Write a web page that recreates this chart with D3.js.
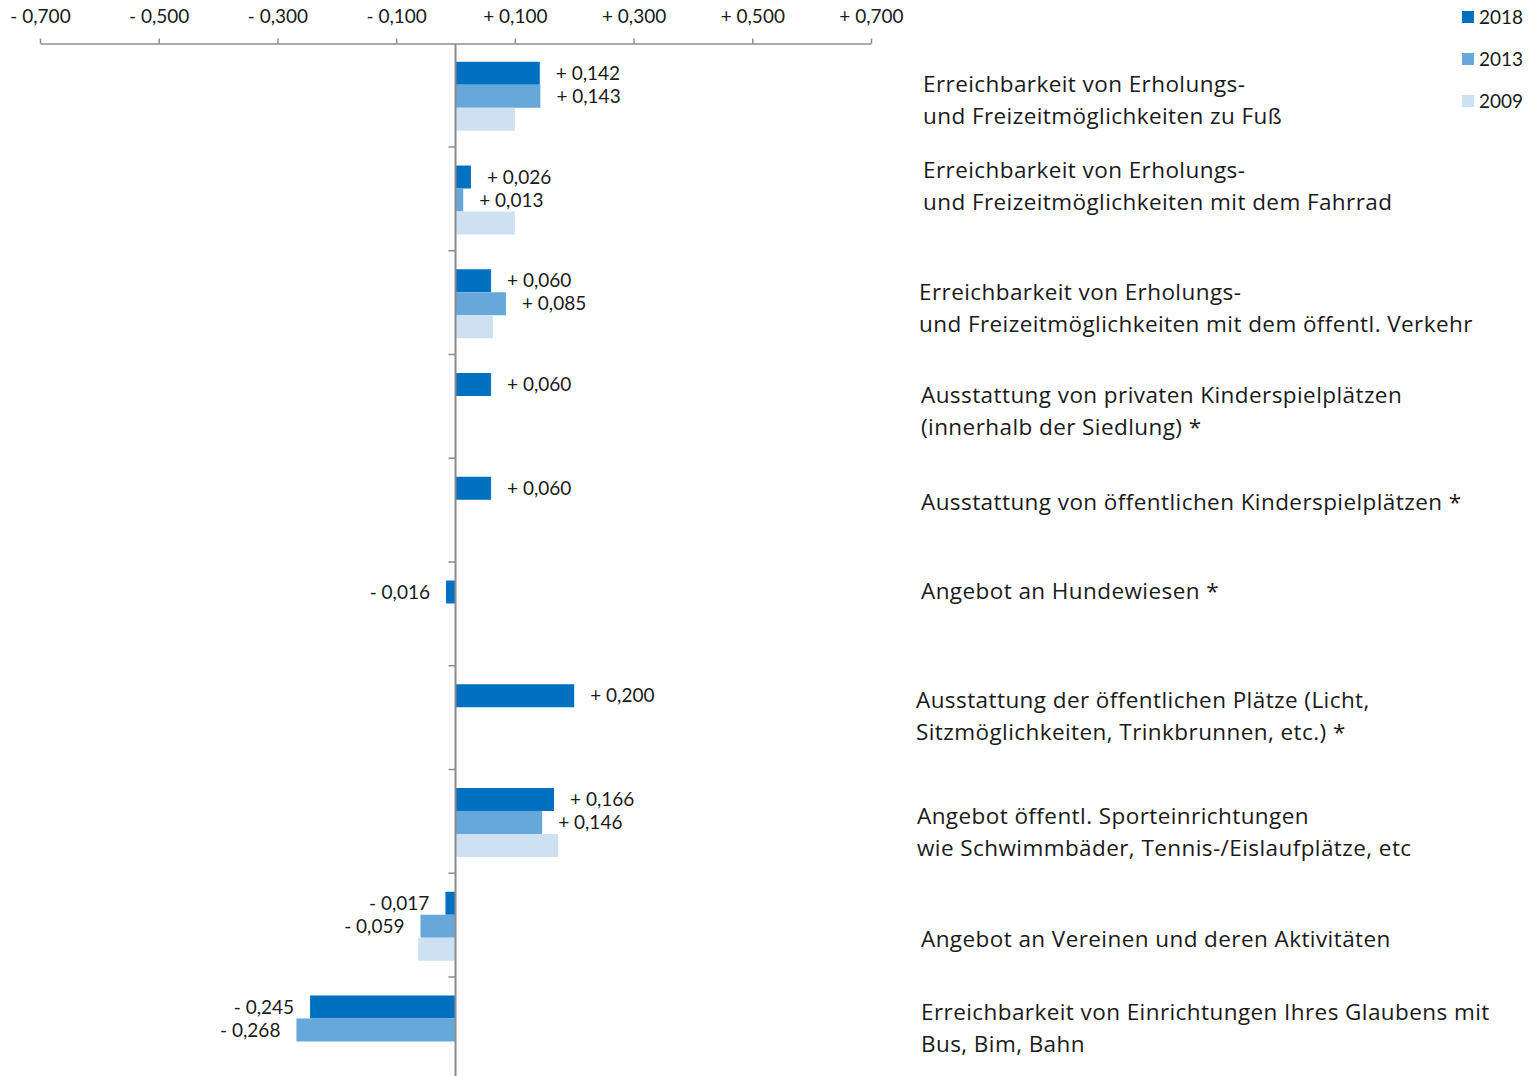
<!DOCTYPE html>
<html><head><meta charset="utf-8">
<script src="https://cdn.jsdelivr.net/npm/d3@7"></script>
<style>body{margin:0;background:#fff;} svg{display:block;} text{font-family:Lato,"Open Sans",sans-serif;fill:#1a1a1a;}</style>
</head><body>
<svg id="c" width="1534" height="1076"></svg>
<script>
const categories = [
  ["Erreichbarkeit von Erholungs-", "und Freizeitmöglichkeiten zu Fuß"],
  ["Erreichbarkeit von Erholungs-", "und Freizeitmöglichkeiten mit dem Fahrrad"],
  ["Erreichbarkeit von Erholungs-", "und Freizeitmöglichkeiten mit dem öffentl. Verkehr"],
  ["Ausstattung von privaten Kinderspielplätzen", "(innerhalb der Siedlung) *"],
  ["Ausstattung von öffentlichen Kinderspielplätzen *"],
  ["Angebot an Hundewiesen *"],
  ["Ausstattung der öffentlichen Plätze (Licht,", "Sitzmöglichkeiten, Trinkbrunnen, etc.) *"],
  ["Angebot öffentl. Sporteinrichtungen", "wie Schwimmbäder, Tennis-/Eislaufplätze, etc"],
  ["Angebot an Vereinen und deren Aktivitäten"],
  ["Erreichbarkeit von Einrichtungen Ihres Glaubens mit", "Bus, Bim, Bahn"]
];
const years = ["2018", "2013", "2009"];
const values2018 = [0.142, 0.026, 0.060, 0.060, 0.060, -0.016, 0.200, 0.166, -0.017, -0.245];
const values2013 = [0.143, 0.013, 0.085, null, null, null, null, 0.146, -0.059, -0.268];
const values2009 = [0.100, 0.100, 0.063, null, null, null, null, 0.173, -0.063, null];
const labeledYears = ["2018", "2013"];
const tickValues = [-0.7, -0.5, -0.3, -0.1, 0.1, 0.3, 0.5, 0.7];

const colors = {"2018": "#0070c0", "2013": "#66a8d9", "2009": "#cde1f2"};
const seriesByYear = {"2018": values2018, "2013": values2013, "2009": values2009};
// layout nudges for the category text boxes (dx = left x, dy = vertical offset from band centre)
const labelLayout = [[923,5],[923,-13],[919,5],[921,5],[921,-8],[921,-23],[916,-2],[917,11],[921,14],[921,-1]];

const fmt = v => (v < 0 ? "- " : "+ ") + d3.format(".3f")(Math.abs(v)).replace(".", ",");

const svg = d3.select("#c");
const axisY = 43.5;
const x = d3.scaleLinear().domain([-0.7, 0.7]).range([40, 871]);
const idx = d3.range(categories.length);
const y = d3.scaleBand().domain(idx).range([43.25, 1080.75]);
const ySub = d3.scaleBand().domain(years).range([18.5, 87.5]);

// bars
years.forEach(yr => {
  const vals = seriesByYear[yr];
  const data = idx.filter(i => vals[i] != null).map(i => ({i, v: vals[i]}));
  svg.append("g").selectAll("rect").data(data).join("rect")
    .attr("x", d => Math.min(x(0), x(d.v)))
    .attr("width", d => Math.abs(x(d.v) - x(0)))
    .attr("y", d => y(d.i) + ySub(yr))
    .attr("height", ySub.bandwidth())
    .attr("fill", colors[yr]);
  if (labeledYears.includes(yr)) {
    svg.append("g").selectAll("text").data(data).join("text")
      .attr("x", d => d.v >= 0 ? x(d.v) + 16 : x(d.v) - 16)
      .attr("y", d => y(d.i) + ySub(yr) + ySub.bandwidth() / 2)
      .attr("dy", "0.35em")
      .attr("text-anchor", d => d.v >= 0 ? "start" : "end")
      .attr("font-size", 19)
      .text(d => fmt(d.v));
  }
});

// top axis
const axTop = svg.append("g").attr("transform", `translate(0,${axisY})`)
  .call(d3.axisTop(x).tickValues(tickValues).tickSize(5).tickSizeOuter(0).tickFormat(fmt));
axTop.select(".domain").attr("stroke", "#8c8c8c").attr("stroke-width", 1.5);
axTop.selectAll(".tick line").attr("stroke", "#8c8c8c").attr("stroke-width", 1.5);
axTop.selectAll(".tick text").attr("font-size", 19).attr("font-family", "Lato, sans-serif").attr("fill", "#1a1a1a").attr("y", -27).attr("dy", "0.35em");

// vertical zero axis with band-boundary ticks
const gV = svg.append("g").attr("transform", `translate(${x(0)},0)`);
gV.append("line").attr("x1", 0).attr("x2", 0).attr("y1", axisY).attr("y2", 1076)
  .attr("stroke", "#8c8c8c").attr("stroke-width", 2);
gV.selectAll("line.t").data(idx.slice(1)).join("line").attr("class", "t")
  .attr("x1", -7).attr("x2", 0).attr("y1", d => y(d)).attr("y2", d => y(d))
  .attr("stroke", "#8c8c8c").attr("stroke-width", 1.5);

// category labels
const lh = 32;
idx.forEach(i => {
  const lines = categories[i];
  const [lx, dy] = labelLayout[i];
  const cy = y(i) + y.bandwidth() / 2 + dy;
  const t = svg.append("text").attr("font-size", 22.5).attr("x", lx)
    .attr("letter-spacing", 0.42)
    .style("font-family", "'Open Sans', sans-serif");
  lines.forEach((ln, k) => {
    t.append("tspan").attr("x", lx)
      .attr("y", cy + (k - (lines.length - 1) / 2) * lh)
      .attr("dy", "0.35em").text(ln);
  });
});

// legend
const lg = svg.append("g");
years.forEach((yr, k) => {
  lg.append("rect").attr("x", 1462).attr("y", 11 + k * 42).attr("width", 12).attr("height", 12).attr("fill", colors[yr]);
  lg.append("text").attr("x", 1479).attr("y", 17 + k * 42).attr("dy", "0.35em").attr("font-size", 19).text(yr);
});
</script>
</body></html>
